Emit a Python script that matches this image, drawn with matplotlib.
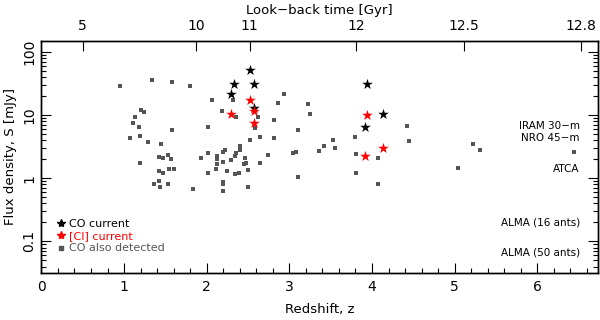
import numpy as np
import matplotlib
matplotlib.use("Agg")
import matplotlib.pyplot as plt
from matplotlib.ticker import MultipleLocator, LogLocator, FixedLocator, FixedFormatter, NullFormatter
from matplotlib.lines import Line2D

# CO detections from literature (redshift, flux density in mJy)
other_z = [0.95, 1.34, 1.58, 1.80, 2.07, 2.18, 1.21, 1.24, 1.13, 1.11, 1.18, 1.58, 2.02,
           1.07, 1.19, 1.29, 1.45, 2.32, 2.35, 2.62, 2.59, 2.52, 2.65, 2.22, 2.40, 1.19,
           1.42, 1.47, 1.53, 1.57, 1.42, 1.47, 1.54, 1.61, 1.36, 1.42, 1.44, 1.53, 1.83,
           2.01, 1.93, 2.01, 2.13, 2.13, 2.12, 2.20, 2.20, 2.11, 2.25, 2.30, 2.34, 2.35,
           2.40, 2.34, 2.39, 2.46, 2.45, 2.48, 2.50, 2.64, 2.74, 2.20, 2.20, 2.20, 2.50,
           3.11, 2.94, 2.86, 3.22, 3.25, 2.81, 3.11, 2.81, 3.53, 3.42, 3.55, 3.36, 3.08,
           3.05, 3.80, 3.81, 4.07, 3.81, 4.07, 4.42, 4.45, 5.04, 5.22, 5.31, 6.44]
other_s = [28.5, 35.5, 33.0, 29.0, 17.2, 11.7, 12.2, 11.2, 9.3, 7.4, 6.4, 5.9, 6.6,
           4.4, 4.7, 3.75, 3.5, 17.2, 9.3, 9.4, 6.2, 4.0, 4.5, 2.83, 3.2, 1.76,
           2.17, 2.12, 2.36, 1.99, 1.29, 1.22, 1.42, 1.39, 0.80, 0.90, 0.72, 0.80, 0.68,
           2.49, 2.12, 1.20, 2.22, 1.99, 1.70, 1.78, 2.59, 1.40, 1.32, 1.97, 2.22, 2.48,
           2.76, 1.19, 1.21, 2.06, 1.66, 1.74, 1.37, 1.73, 2.34, 0.87, 0.82, 0.63, 0.74,
           1.03, 21.6, 15.7, 15.3, 10.5, 8.3, 5.9, 4.4, 4.0, 3.2, 3.0, 2.71, 2.61,
           2.54, 4.55, 2.39, 2.09, 1.20, 0.82, 6.7, 3.9, 1.46, 3.49, 2.80, 2.62]

# current CO targets
co_z = [2.52, 2.33, 2.57, 2.30, 2.57, 3.94, 4.13, 3.92]
co_s = [52.4, 31.5, 31.5, 21.9, 12.9, 31.1, 10.6, 6.6]

# current [CI] targets
ci_z = [2.52, 2.30, 2.57, 2.57, 3.94, 4.13, 3.92]
ci_s = [17.7, 10.4, 11.8, 7.4, 10.0, 2.97, 2.25]

# look-back time axis (Gyr) and where those ticks fall in redshift
lbt_labels = ["5", "10", "11", "12", "12.5", "12.8"]
lbt_z = [0.498, 1.868, 2.521, 3.811, 5.113, 6.524]

# instrument sensitivity labels
inst_labels = ["IRAM 30\u2212m", "NRO 45\u2212m", "ATCA", "ALMA (16 ants)", "ALMA (50 ants)"]
inst_y = [0.634, 0.583, 0.446, 0.217, 0.087]

gray = "#555555"
red = "#ff0000"

plt.rcParams["font.family"] = "DejaVu Sans"
plt.rcParams["axes.linewidth"] = 1.0

fig = plt.figure(figsize=(6, 3.2), dpi=100)
ax = fig.add_axes([0.069, 0.148, 0.927, 0.724])

ax.scatter(other_z, other_s, marker="s", s=5, color=gray, linewidths=0, zorder=2)
ax.scatter(co_z, co_s, marker="*", s=65, color="black", linewidths=0, zorder=3)
ax.scatter(ci_z, ci_s, marker="*", s=65, color=red, linewidths=0, zorder=4)

ax.set_yscale("log")
ax.set_xlim(0, 6.73)
ax.set_ylim(0.032, 150)

ax.xaxis.set_major_locator(MultipleLocator(1))
ax.xaxis.set_minor_locator(MultipleLocator(0.2))
ax.yaxis.set_major_locator(FixedLocator([0.1, 1, 10, 100]))
ax.yaxis.set_major_formatter(FixedFormatter(["0.1", "1", "10", "100"]))
ax.yaxis.set_minor_locator(LogLocator(base=10, subs=np.arange(2, 10)))
ax.yaxis.set_minor_formatter(NullFormatter())

ax.tick_params(which="both", direction="in", right=True, top=False, width=0.8)
ax.tick_params(which="major", length=7, labelsize=10)
ax.tick_params(which="minor", length=3.5)
ax.tick_params(axis="x", which="major", pad=5)
for lab in ax.get_yticklabels():
    lab.set_rotation(90)
    lab.set_va("center")

ax.set_xlabel("Redshift, z", fontsize=9.5, labelpad=7)
ax.set_ylabel("Flux density, S [mJy]", fontsize=9.5, labelpad=4)

# top axis: look-back time
ax2 = ax.twiny()
ax2.set_xlim(ax.get_xlim())
ax2.set_xticks(lbt_z)
ax2.set_xticklabels(lbt_labels)
ax2.tick_params(direction="in", length=7, width=0.8, labelsize=10, pad=6)
ax2.set_xlabel("Look\u2212back time [Gyr]", fontsize=9.5, labelpad=3)

for lab, yy in zip(inst_labels, inst_y):
    ax.text(0.968, yy, lab, transform=ax.transAxes, ha="right", va="center", fontsize=7.5)

handles = [
    Line2D([], [], linestyle="none", marker="*", color="black", markersize=6),
    Line2D([], [], linestyle="none", marker="*", color=red, markersize=6),
    Line2D([], [], linestyle="none", marker="s", color=gray, markersize=2.5),
]
ax.legend(handles, ["CO current", "[CI] current", "CO also detected"],
          loc="upper left", bbox_to_anchor=(0.015, 0.265), frameon=False,
          fontsize=8, handlelength=0.6, handletextpad=0.4, labelspacing=0.2,
          borderpad=0.2, labelcolor=["black", red, gray])

fig.savefig("out.png", dpi=100)
